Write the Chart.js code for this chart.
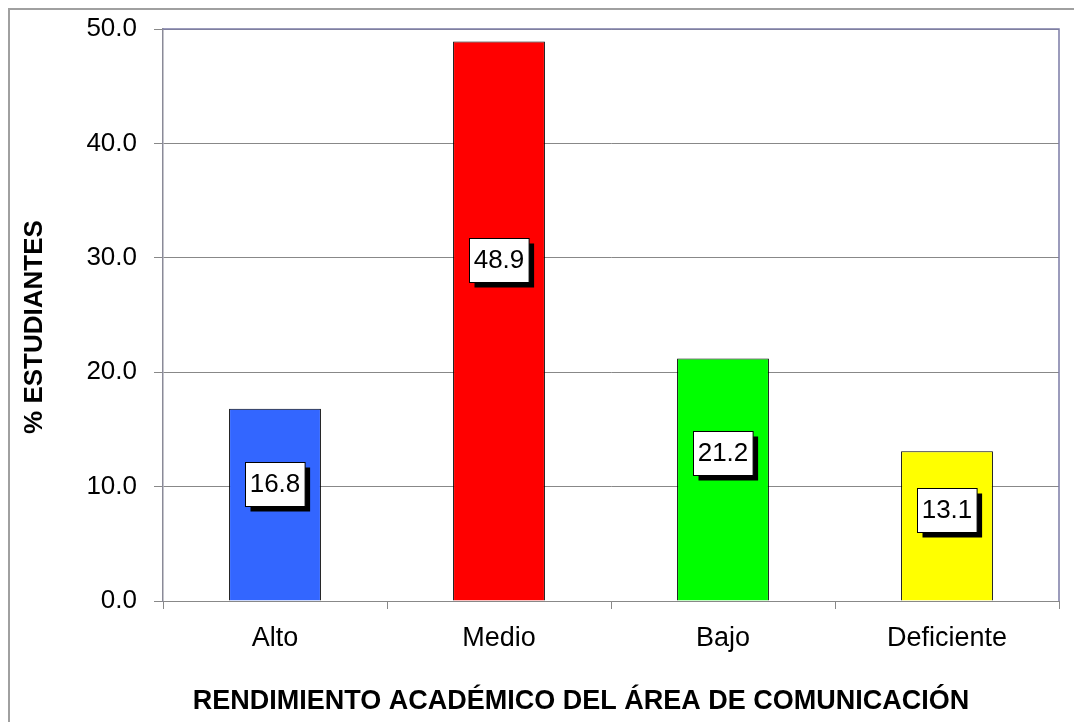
<!DOCTYPE html>
<html>

<head>
  <meta charset="utf-8">
  <script src="https://cdn.jsdelivr.net/npm/chart.js@4/dist/chart.umd.min.js"></script>
  <style>
    body { margin: 0; background: #fff; }
  </style>
</head>

<body>
  <canvas id="chart" width="1074" height="722"></canvas>
  <script>
    // data
    const categories = ['Alto', 'Medio', 'Bajo', 'Deficiente'];
    const values = [16.8, 48.9, 21.2, 13.1];
    const barColors = ['#3366ff', '#ff0000', '#00ff00', '#ffff00'];
    const yTitle = '% ESTUDIANTES';
    const xTitle = 'RENDIMIENTO ACADÉMICO DEL ÁREA DE COMUNICACIÓN';

    const FONT = '"Liberation Sans", Arial, sans-serif';

    // frame, plot border and axis titles
    const frame = {
      id: 'frame',
      beforeDraw(chart) {
        const ctx = chart.ctx;
        ctx.save();
        ctx.fillStyle = '#fff';
        ctx.fillRect(0, 0, chart.width, chart.height);
        ctx.strokeStyle = '#a0a0a0';
        ctx.lineWidth = 2;
        ctx.strokeRect(9, 9, chart.width + 20, chart.height + 20);
        ctx.restore();
      },
      beforeDatasetsDraw(chart) {
        const ctx = chart.ctx;
        const a = chart.chartArea;
        ctx.save();
        ctx.strokeStyle = '#7c7ca6';
        ctx.lineWidth = 1.5;
        ctx.beginPath();
        ctx.moveTo(a.left, a.top);
        ctx.lineTo(a.right, a.top);
        ctx.lineTo(a.right, a.bottom);
        ctx.stroke();
        ctx.restore();
      },
      afterDraw(chart) {
        const ctx = chart.ctx;
        ctx.save();
        ctx.fillStyle = '#000';
        ctx.font = 'bold 26px ' + FONT;
        ctx.textAlign = 'center';
        ctx.textBaseline = 'middle';
        ctx.translate(35, 327);
        ctx.rotate(-Math.PI / 2);
        ctx.fillText(yTitle, 0, 0);
        ctx.restore();

        ctx.save();
        ctx.fillStyle = '#000';
        ctx.font = 'bold 27px ' + FONT;
        ctx.textAlign = 'center';
        ctx.textBaseline = 'middle';
        ctx.fillText(xTitle, 581, 702);
        ctx.restore();
      }
    };

    // boxed value labels with a drop shadow
    const boxLabels = {
      id: 'boxLabels',
      afterDatasetsDraw(chart) {
        const ctx = chart.ctx;
        const yScale = chart.scales.y;
        const meta = chart.getDatasetMeta(0);
        ctx.save();
        ctx.font = '26px ' + FONT;
        ctx.textAlign = 'center';
        ctx.textBaseline = 'middle';
        meta.data.forEach((bar, i) => {
          const txt = values[i].toFixed(1);
          const w = ctx.measureText(txt).width + 9;
          const h = 44;
          const cx = bar.x;
          const cy = yScale.getPixelForValue(values[i] * 0.61);
          const x0 = Math.round(cx - w / 2) + 0.5;
          const y0 = Math.round(cy - h / 2) + 0.5;
          ctx.fillStyle = '#000';
          ctx.fillRect(x0 + 5, y0 + 5, w, h);
          ctx.fillStyle = '#fff';
          ctx.fillRect(x0, y0, w, h);
          ctx.strokeStyle = '#000';
          ctx.lineWidth = 1;
          ctx.strokeRect(x0, y0, w, h);
          ctx.fillStyle = '#000';
          ctx.fillText(txt, cx, cy + 1);
        });
        ctx.restore();
      }
    };

    new Chart('chart', {
      type: 'bar',
      data: {
        labels: categories,
        datasets: [{
          data: values,
          backgroundColor: barColors,
          borderColor: '#000',
          borderWidth: 1,
          barPercentage: 0.41,
          categoryPercentage: 1
        }]
      },
      options: {
        responsive: false,
        animation: false,
        layout: { padding: { top: 29, right: 15, left: 0, bottom: 0 } },
        plugins: {
          legend: { display: false },
          tooltip: { enabled: false }
        },
        scales: {
          x: {
            offset: true,
            afterFit(scale) { scale.height = 121; },
            grid: { offset: true, drawOnChartArea: false, tickLength: 8, color: '#888' },
            border: { color: '#888', width: 1 },
            ticks: { color: '#000', font: { family: FONT, size: 27 }, padding: 13 }
          },
          y: {
            min: 0,
            max: 50,
            afterFit(scale) {
              scale.width = 163;
              scale.paddingTop = 0;
              scale.paddingBottom = 0;
            },
            grid: { color: '#888', tickLength: 9 },
            border: { color: '#8a8a98', width: 1.5 },
            ticks: {
              stepSize: 10,
              color: '#000',
              padding: 17,
              font: { family: FONT, size: 26 },
              callback: v => v.toFixed(1)
            }
          }
        }
      },
      plugins: [frame, boxLabels]
    });
  </script>
</body>

</html>
